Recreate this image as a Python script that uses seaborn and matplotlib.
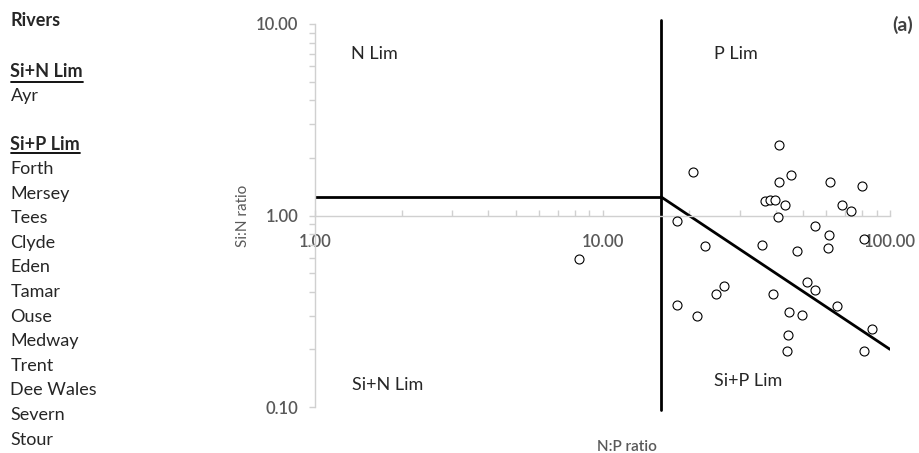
import numpy as np
import matplotlib
matplotlib.use("Agg")
import matplotlib.pyplot as plt
import matplotlib.ticker as mticker
from matplotlib.lines import Line2D
import seaborn as sns

# N:P and Si:N ratios
np_ratio = [41.0, 20.6, 45.4, 41.2, 62.0, 80.1, 36.6, 38.2, 39.8, 43.1,
            67.9, 73.4, 40.8, 18.2, 54.7, 61.2, 81.0, 22.8, 35.8, 60.9,
            47.4, 51.6, 26.5, 24.8, 39.1, 55.0, 18.1, 21.4, 44.4, 49.5,
            65.3, 86.4, 44.3, 44.0, 81.0, 8.3]
sin_ratio = [2.34, 1.68, 1.62, 1.49, 1.49, 1.43, 1.19, 1.20, 1.20, 1.14,
             1.13, 1.05, 0.98, 0.94, 0.88, 0.79, 0.75, 0.69, 0.70, 0.68,
             0.65, 0.447, 0.428, 0.39, 0.39, 0.407, 0.34, 0.30, 0.314, 0.304,
             0.336, 0.255, 0.237, 0.196, 0.197, 0.596]

# limitation thresholds
np_limit = 16
sin_limit = 1.25
sip_limit = 20

x_range = [1, 100]
y_range = [0.1, 10]

si_n_rivers = ['Ayr']
si_p_rivers = ['Forth', 'Mersey', 'Tees', 'Clyde', 'Eden', 'Tamar', 'Ouse',
               'Medway', 'Trent', 'Dee Wales', 'Severn', 'Stour']

sns.set_style('white')
plt.rcParams['font.family'] = ['Lato', 'DejaVu Sans']

W, H = 919, 453
fig = plt.figure(figsize=(W / 100, H / 100), dpi=100)


def fx(px):
    return px / W


def fy(py):
    return 1 - py / H


ax = fig.add_axes([fx(315), fy(407), 575 / W, 383 / H])
ax.set_xscale('log')
ax.set_yscale('log')
ax.set_xlim(x_range)
ax.set_ylim(y_range)

# boundary lines
ax.plot([x_range[0], np_limit], [sin_limit, sin_limit], color='black', lw=2)
ax.plot([np_limit, np_limit], [y_range[0] * 0.97, y_range[1] * 1.05],
        color='black', lw=2, clip_on=False)
ax.plot([np_limit, x_range[1]], [sip_limit / np_limit, sip_limit / x_range[1]],
        color='black', lw=2)

sns.scatterplot(x=np_ratio, y=sin_ratio, ax=ax, marker='o', s=42,
                facecolor='white', edgecolor='black', linewidth=0.8,
                zorder=3, clip_on=False)

for s in ['top', 'right']:
    ax.spines[s].set_visible(False)
ax.spines['bottom'].set_position(('data', 1))
for s in ['left', 'bottom']:
    ax.spines[s].set_color('#d0d0d0')
    ax.spines[s].set_linewidth(1)

fmt = mticker.FuncFormatter(lambda v, p: f'{v:.2f}')
ax.xaxis.set_major_formatter(fmt)
ax.yaxis.set_major_formatter(fmt)
ax.xaxis.set_minor_formatter(mticker.NullFormatter())
ax.yaxis.set_minor_formatter(mticker.NullFormatter())
ax.tick_params(axis='x', which='both', bottom=True, direction='in', length=4,
               width=1, color='#d0d0d0', pad=13, labelsize=12, labelcolor='#595959')
ax.tick_params(axis='y', which='both', left=True, direction='out', length=4,
               width=1, color='#d0d0d0', pad=8, labelsize=12, labelcolor='#595959')
for lab in ax.get_xticklabels() + ax.get_yticklabels():
    lab.set_fontweight('semibold')

fig.text(fx(243), fy(216), 'Si:N ratio', rotation=90, ha='center', va='center',
         fontsize=11, color='#595959')
fig.text(fx(627), fy(447), 'N:P ratio', ha='center', va='center',
         fontsize=11, color='#595959', fontweight='semibold')

# region labels
fig.text(fx(351), fy(59), 'N Lim', fontsize=13, va='baseline')
fig.text(fx(352), fy(390), 'Si+N Lim', fontsize=13, va='baseline')
fig.text(fx(714), fy(59), 'P Lim', fontsize=13, va='baseline')
fig.text(fx(714), fy(386), 'Si+P Lim', fontsize=13, va='baseline')
fig.text(fx(913), fy(31), '(a)', fontsize=14, fontweight='bold',
         ha='right', va='baseline', color='#404040')

# river list on the left
left = fx(10.5)
fig.text(left, fy(26.5), 'Rivers', fontsize=13, fontweight='bold', va='baseline')
h1 = fig.text(left, fy(77), 'Si+N Lim', fontsize=13, fontweight='bold', va='baseline')
fig.text(left, fy(100.5), si_n_rivers[0], fontsize=13, va='baseline')
h2 = fig.text(left, fy(150), 'Si+P Lim', fontsize=13, fontweight='bold', va='baseline')
for i, name in enumerate(si_p_rivers):
    fig.text(left, fy(174 + i * 24.6), name, fontsize=13, va='baseline')

fig.canvas.draw()
r = fig.canvas.get_renderer()
for h, uy in [(h1, 82.5), (h2, 152.5)]:
    bb = h.get_window_extent(r)
    fig.add_artist(Line2D([bb.x0 / W, bb.x1 / W], [fy(uy), fy(uy)],
                          color='black', lw=1.3))

fig.savefig('out.png', dpi=100)
